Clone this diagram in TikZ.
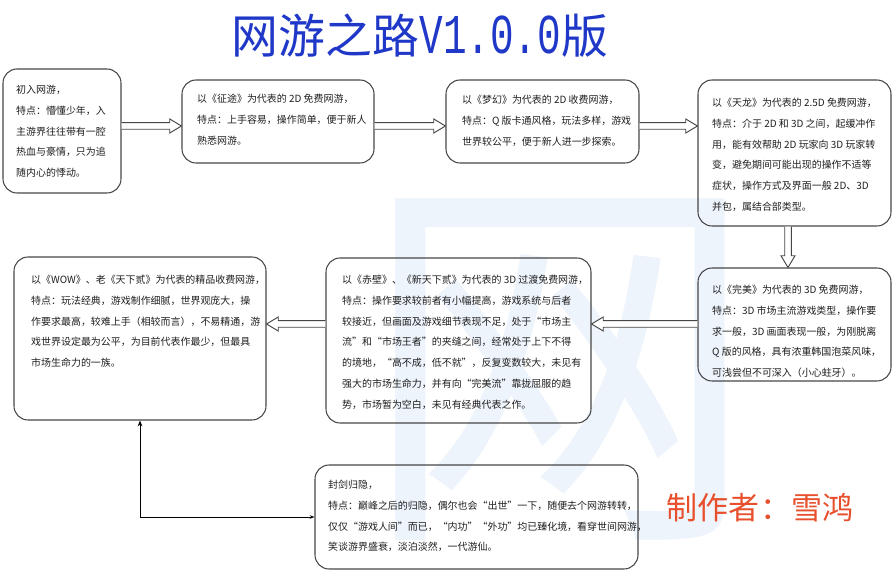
\documentclass[tikz,border=0pt]{standalone}
\usepackage{fontspec}
\usetikzlibrary{positioning,arrows.meta,calc,fit}
\newfontfamily\cjk{Noto Sans CJK SC}
\newfontfamily\titlemono[FakeStretch=0.7]{Liberation Mono}
\definecolor{titleblue}{RGB}{32,56,200}
\definecolor{signred}{RGB}{232,80,45}
\definecolor{frame}{RGB}{70,70,70}
\definecolor{ink}{RGB}{30,30,30}
\definecolor{wmblue}{RGB}{238,244,252}
% hollow block arrow from #1 to #2 (tip at #2)
\newcommand{\fatarrow}[2]{%
  \coordinate (fh) at ($(#2)!10pt!(#1)$);
  \draw[fat] ($(#1)!2.8pt!90:(#2)$) -- ($(fh)!2.8pt!90:(#2)$)
    -- ($(fh)!6pt!90:(#2)$) -- (#2) -- ($(fh)!6pt!-90:(#2)$)
    -- ($(fh)!2.8pt!-90:(#2)$) -- ($(#1)!2.8pt!-90:(#2)$);}

\begin{document}
\begin{tikzpicture}[x=0.03cm, y=-0.03cm,
  card/.style={draw=frame, line width=0.9pt, rounded corners=12pt, inner sep=0pt},
  txt/.style={font=\cjk\fontsize{8.5}{17.7}\selectfont, text=ink, align=left,
    inner sep=0pt, anchor=north west},
  fat/.style={draw=frame, line width=0.8pt, fill=white, line join=miter},
  link/.style={black, line width=0.7pt}]
  \useasboundingbox (0,0) rectangle (894,573);
  \node[font=\cjk\fontsize{340}{340}\selectfont, text=wmblue] (wm) at (560,370) {网};
  \node[font=\cjk\fontsize{40}{40}\selectfont, text=titleblue] (title) at (420,36)
    {网游之路{\titlemono\fontsize{48}{48}\selectfont V1.0.0}版};
  \node[font=\cjk\fontsize{26.5}{26.5}\selectfont, text=signred] (sign) at (760,508)
    {制作者：雪鸿};
  % boxes
  \foreach \n/\xa/\ya/\xb/\yb in {b1/3/69/121/193, b2/182/80/374/163,
      b3/446/80/639/163, b4/698/80/891/226, b5/698/268/891/381,
      b6/326/258/591/423, b7/14/257/266/420, b8/315/465/638/569}
    \node[card, fit={(\xa,\ya) (\xb,\yb)}] (\n) {};
  % texts
  \node[txt] (t1) at (16,85) {初入网游，\\特点：懵懂少年，入\\主游界往往带有一腔\\
    热血与豪情，只为追\\随内心的悸动。};
  \node[txt] (t2) at (197,94) {以《征途》为代表的 2D 免费网游，\\
    特点：上手容易，操作简单，便于新人\\熟悉网游。};
  \node[txt] (t3) at (462,95) {以《梦幻》为代表的 2D 收费网游，\\
    特点：Q 版卡通风格，玩法多样，游戏\\世界较公平，便于新人进一步探索。};
  \node[txt] (t4) at (712,98) {以《天龙》为代表的 2.5D 免费网游，\\
    特点：介于 2D 和 3D 之间，起缓冲作\\用，能有效帮助 2D 玩家向 3D 玩家转\\
    变，避免期间可能出现的操作不适等\\症状，操作方式及界面一般 2D、3D\\
    并包，属结合部类型。};
  \node[txt] (t5) at (712,285) {以《完美》为代表的 3D 免费网游，\\
    特点：3D 市场主流游戏类型，操作要\\求一般，3D 画面表现一般，为刚脱离\\
    Q 版的风格，具有浓重韩国泡菜风味，\\可浅尝但不可深入（小心蛀牙）。};
  \node[txt] (t6) at (342,275) {以《赤壁》、《新天下贰》为代表的 3D 过渡免费网游，\\
    特点：操作要求较前者有小幅提高，游戏系统与后者\\
    较接近，但画面及游戏细节表现不足，处于“市场主\\
    流”和“市场王者”的夹缝之间，经常处于上下不得\\
    的境地，“高不成，低不就”，反复变数较大，未见有\\
    强大的市场生命力，并有向“完美流”靠拢屈服的趋\\
    势，市场暂为空白，未见有经典代表之作。};
  \node[txt] (t7) at (31,275) {以《WOW》、老《天下贰》为代表的精品收费网游，\\
    特点：玩法经典，游戏制作细腻，世界观庞大，操\\
    作要求最高，较难上手（相较而言），不易精通，游\\
    戏世界设定最为公平，为目前代表作最少，但最具\\
    市场生命力的一族。};
  \node[txt] (t8) at (328,480) {封剑归隐，\\
    特点：巅峰之后的归隐，偶尔也会“出世”一下，随便去个网游转转，\\
    仅仅“游戏人间”而已，“内功”“外功”均已臻化境，看穿世间网游，\\
    笑谈游界盛衰，淡泊淡然，一代游仙。};
  % arrows
  \coordinate (row1) at (0,126);
  \coordinate (row2) at (0,324);
  \coordinate (row3) at (0,517);
  \coordinate (col1) at (140,0);
  \coordinate (col4) at (788,0);
  \coordinate (s12) at (b1.east |- row1);  \coordinate (e12) at (b2.west |- row1);
  \coordinate (s23) at (b2.east |- row1);  \coordinate (e23) at (b3.west |- row1);
  \coordinate (s34) at (b3.east |- row1);  \coordinate (e34) at (b4.west |- row1);
  \coordinate (s45) at (col4 |- b4.south); \coordinate (e45) at (col4 |- b5.north);
  \coordinate (s56) at (b5.west |- row2);  \coordinate (e56) at (b6.east |- row2);
  \coordinate (s67) at (b6.west |- row2);  \coordinate (e67) at (b7.east |- row2);
  \fatarrow{s12}{e12}
  \fatarrow{s23}{e23}
  \fatarrow{s34}{e34}
  \fatarrow{s45}{e45}
  \fatarrow{s56}{e56}
  \fatarrow{s67}{e67}
  \coordinate (s87) at (b8.west |- row3);
  \coordinate (e87) at (col1 |- b7.south);
  \draw[link, {Stealth[length=4pt, width=3pt]}-{Stealth[length=5pt, width=4pt]}]
    (s87) -| (e87);
\end{tikzpicture}
\end{document}
